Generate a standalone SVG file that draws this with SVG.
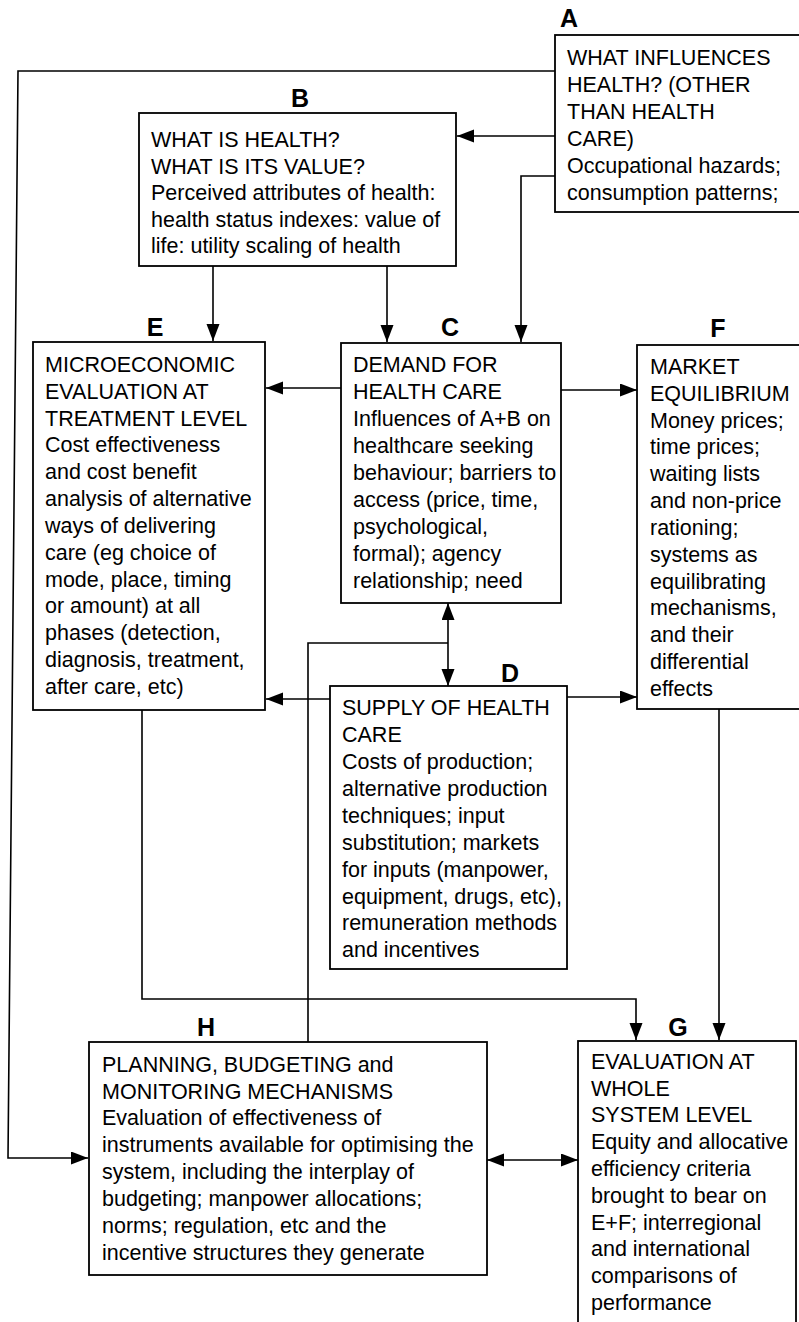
<svg xmlns="http://www.w3.org/2000/svg" width="799" height="1322" viewBox="0 0 799 1322">
<style>
.box{fill:#fff;stroke:#000;stroke-width:1.8}
.t{font-family:"Liberation Sans",Arial,sans-serif;font-size:21.5px;fill:#000}
.lbl{font-family:"Liberation Sans",Arial,sans-serif;font-size:25px;font-weight:bold;fill:#000;text-anchor:middle}
.c{fill:none;stroke:#000;stroke-width:1.6}
</style>
<defs>
<marker id="ah" markerUnits="userSpaceOnUse" markerWidth="18" markerHeight="14" refX="17" refY="6.5" orient="auto-start-reverse"><path d="M0,0 L17,6.5 L0,13 z" fill="#000"/></marker>
</defs>
<rect width="799" height="1322" fill="#fff"/>
<g id="connectors">
<path class="c" d="M555,71 H18 L8,1158 H88" marker-end="url(#ah)"/>
<path class="c" d="M555,136 H457" marker-end="url(#ah)"/>
<path class="c" d="M555,176 H521 V342" marker-end="url(#ah)"/>
<path class="c" d="M213,266 V341" marker-end="url(#ah)"/>
<path class="c" d="M387,266 V342" marker-end="url(#ah)"/>
<path class="c" d="M341,388 H266" marker-end="url(#ah)"/>
<path class="c" d="M561,390 H637" marker-end="url(#ah)"/>
<path class="c" d="M448,603 V686" marker-start="url(#ah)" marker-end="url(#ah)"/>
<path class="c" d="M308,1042 V643 H448"/>
<path class="c" d="M331,699 H266" marker-end="url(#ah)"/>
<path class="c" d="M567,697 H637" marker-end="url(#ah)"/>
<path class="c" d="M142,710 V999 H636 V1040" marker-end="url(#ah)"/>
<path class="c" d="M719,709 V1040" marker-end="url(#ah)"/>
<path class="c" d="M487,1160 H578" marker-start="url(#ah)" marker-end="url(#ah)"/>
</g>
<g id="A">
<rect class="box" x="555" y="35" width="260" height="177"/>
<text class="lbl" x="569" y="27">A</text>
<text class="t"><tspan x="567" y="65">WHAT INFLUENCES</tspan><tspan x="567" y="92">HEALTH? (OTHER</tspan><tspan x="567" y="119">THAN HEALTH</tspan><tspan x="567" y="146">CARE)</tspan><tspan x="567" y="173">Occupational hazards;</tspan><tspan x="567" y="200">consumption patterns;</tspan></text>
</g>
<g id="B">
<rect class="box" x="139" y="113" width="317" height="153"/>
<text class="lbl" x="300" y="107">B</text>
<text class="t"><tspan x="151" y="147">WHAT IS HEALTH?</tspan><tspan x="151" y="174">WHAT IS ITS VALUE?</tspan><tspan x="151" y="200">Perceived attributes of health:</tspan><tspan x="151" y="227">health status indexes: value of</tspan><tspan x="151" y="253">life: utility scaling of health</tspan></text>
</g>
<g id="E">
<rect class="box" x="33" y="342" width="232" height="368"/>
<text class="lbl" x="155" y="336">E</text>
<text class="t"><tspan x="45" y="372">MICROECONOMIC</tspan><tspan x="45" y="399">EVALUATION AT</tspan><tspan x="45" y="426">TREATMENT LEVEL</tspan><tspan x="45" y="452">Cost effectiveness</tspan><tspan x="45" y="479">and cost benefit</tspan><tspan x="45" y="506">analysis of alternative</tspan><tspan x="45" y="533">ways of delivering</tspan><tspan x="45" y="560">care (eg choice of</tspan><tspan x="45" y="587">mode, place, timing</tspan><tspan x="45" y="613">or amount) at all</tspan><tspan x="45" y="640">phases (detection,</tspan><tspan x="45" y="667">diagnosis, treatment,</tspan><tspan x="45" y="694">after care, etc)</tspan></text>
</g>
<g id="C">
<rect class="box" x="341" y="343" width="220" height="260"/>
<text class="lbl" x="450" y="336">C</text>
<text class="t"><tspan x="353" y="372">DEMAND FOR</tspan><tspan x="353" y="399">HEALTH CARE</tspan><tspan x="353" y="426">Influences of A+B on</tspan><tspan x="353" y="453">healthcare seeking</tspan><tspan x="353" y="480">behaviour; barriers to</tspan><tspan x="353" y="507">access (price, time,</tspan><tspan x="353" y="534">psychological,</tspan><tspan x="353" y="561">formal); agency</tspan><tspan x="353" y="588">relationship; need</tspan></text>
</g>
<g id="F">
<rect class="box" x="637" y="345" width="180" height="364"/>
<text class="lbl" x="718" y="337">F</text>
<text class="t"><tspan x="650" y="374">MARKET</tspan><tspan x="650" y="401">EQUILIBRIUM</tspan><tspan x="650" y="428">Money prices;</tspan><tspan x="650" y="454">time prices;</tspan><tspan x="650" y="481">waiting lists</tspan><tspan x="650" y="508">and non-price</tspan><tspan x="650" y="535">rationing;</tspan><tspan x="650" y="562">systems as</tspan><tspan x="650" y="589">equilibrating</tspan><tspan x="650" y="615">mechanisms,</tspan><tspan x="650" y="642">and their</tspan><tspan x="650" y="669">differential</tspan><tspan x="650" y="696">effects</tspan></text>
</g>
<g id="D">
<rect class="box" x="330" y="686" width="237" height="283"/>
<text class="lbl" x="510" y="682">D</text>
<text class="t"><tspan x="342" y="715">SUPPLY OF HEALTH</tspan><tspan x="342" y="742">CARE</tspan><tspan x="342" y="769">Costs of production;</tspan><tspan x="342" y="796">alternative production</tspan><tspan x="342" y="823">techniques; input</tspan><tspan x="342" y="850">substitution; markets</tspan><tspan x="342" y="877">for inputs (manpower,</tspan><tspan x="342" y="904">equipment, drugs, etc),</tspan><tspan x="342" y="930">remuneration methods</tspan><tspan x="342" y="957">and incentives</tspan></text>
</g>
<g id="H">
<rect class="box" x="89" y="1042" width="398" height="233"/>
<text class="lbl" x="206" y="1036">H</text>
<text class="t"><tspan x="102" y="1072">PLANNING, BUDGETING and</tspan><tspan x="102" y="1099">MONITORING MECHANISMS</tspan><tspan x="102" y="1125">Evaluation of effectiveness of</tspan><tspan x="102" y="1152">instruments available for optimising the</tspan><tspan x="102" y="1179">system, including the interplay of</tspan><tspan x="102" y="1206">budgeting; manpower allocations;</tspan><tspan x="102" y="1233">norms; regulation, etc and the</tspan><tspan x="102" y="1260">incentive structures they generate</tspan></text>
</g>
<g id="G">
<rect class="box" x="578" y="1041" width="218" height="300"/>
<text class="lbl" x="678" y="1036">G</text>
<text class="t"><tspan x="591" y="1069">EVALUATION AT</tspan><tspan x="591" y="1096">WHOLE</tspan><tspan x="591" y="1122">SYSTEM LEVEL</tspan><tspan x="591" y="1149">Equity and allocative</tspan><tspan x="591" y="1176">efficiency criteria</tspan><tspan x="591" y="1203">brought to bear on</tspan><tspan x="591" y="1230">E+F; interregional</tspan><tspan x="591" y="1256">and international</tspan><tspan x="591" y="1283">comparisons of</tspan><tspan x="591" y="1310">performance</tspan></text>
</g>
</svg>
